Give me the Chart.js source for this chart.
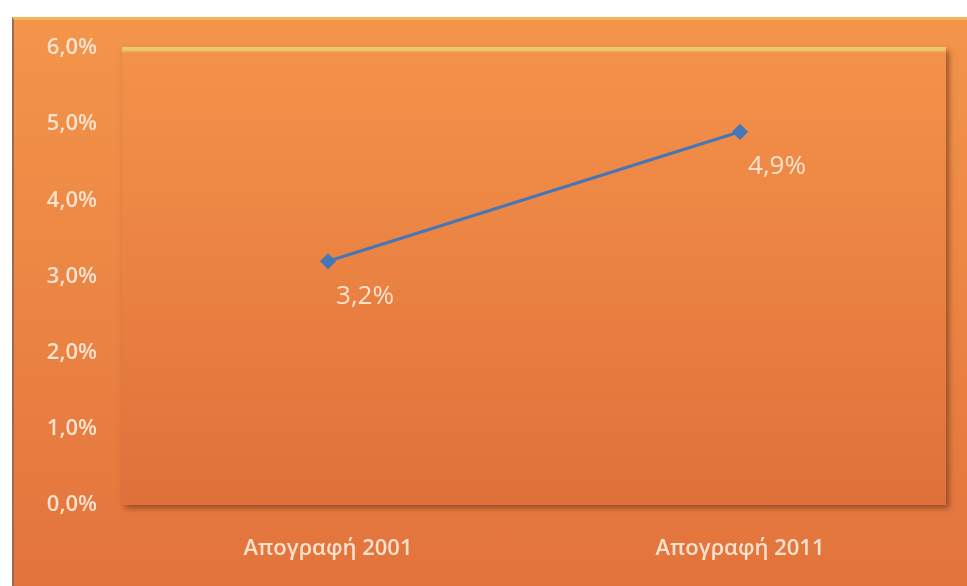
<!DOCTYPE html>
<html>
<head>
<meta charset="utf-8">
<script src="https://cdn.jsdelivr.net/npm/chart.js@4"></script>
<style>
  html, body { margin: 0; padding: 0; background: #fff; }
  #wrap {
    position: absolute; left: 0; top: 0; width: 967px; height: 586px;
  }
  #frame {
    position: absolute; left: 12px; top: 17px; width: 960px; height: 575px;
    background: linear-gradient(to bottom, #f3954a 0%, #ec8644 45%, #e2733c 100%);
    border-top: 3px solid #f7b55a;
    border-left: 2px solid #9a6a55;
    box-sizing: border-box;
  }
  canvas { position: absolute; left: 0; top: 0; }
</style>
</head>
<body>
<div id="wrap">
  <div id="frame"></div>
  <canvas id="grafik" width="967" height="586"></canvas>
</div>
<script>
const categories = ['Απογραφή 2001', 'Απογραφή 2011'];
const values = [3.2, 4.9];
const yTicks = [0, 1, 2, 3, 4, 5, 6];

const textColor = '#fbe2cf';
const fmt = v => v.toFixed(1).replace('.', ',') + '%';

// plot area box with gradient, highlight and shadow
const plotBox = {
    id: 'plotBox',
    beforeDatasetsDraw(chart) {
        const { ctx, chartArea: a } = chart;
        ctx.save();
        ctx.shadowColor = 'rgba(120,60,30,0.75)';
        ctx.shadowBlur = 6;
        ctx.shadowOffsetX = 3;
        ctx.shadowOffsetY = 3;
        const g = ctx.createLinearGradient(0, a.top, 0, a.bottom);
        g.addColorStop(0, '#f3924a');
        g.addColorStop(0.5, '#ea8242');
        g.addColorStop(1, '#df703b');
        ctx.fillStyle = g;
        ctx.fillRect(a.left, a.top, a.right - a.left, a.bottom - a.top);
        ctx.restore();
        ctx.save();
        const h = ctx.createLinearGradient(0, a.top - 1, 0, a.top + 6);
        h.addColorStop(0, '#e8d070');
        h.addColorStop(0.5, '#ecc262');
        h.addColorStop(1, 'rgba(243,146,74,0)');
        ctx.fillStyle = h;
        ctx.fillRect(a.left, a.top - 1, a.right - a.left, 7);
        ctx.restore();
    }
};

// value labels below-right of each point
const valueLabels = {
    id: 'valueLabels',
    afterDatasetsDraw(chart) {
        const { ctx } = chart;
        const meta = chart.getDatasetMeta(0);
        ctx.save();
        ctx.font = '500 26px "Open Sans", sans-serif';
        ctx.fillStyle = textColor;
        ctx.textAlign = 'center';
        ctx.textBaseline = 'middle';
        meta.data.forEach((pt, i) => {
            ctx.fillText(fmt(values[i]), pt.x + 37, pt.y + 35);
        });
        ctx.restore();
    }
};

new Chart(document.getElementById('grafik'), {
    type: 'line',
    data: {
        labels: categories,
        datasets: [{
            data: values,
            borderColor: '#4776b6',
            borderWidth: 3,
            pointStyle: 'rectRot',
            pointRadius: 6,
            pointBackgroundColor: '#4776b6',
            pointBorderColor: '#4776b6',
            tension: 0
        }]
    },
    options: {
        responsive: false,
        animation: false,
        layout: { padding: { top: 48, right: 21, bottom: 0, left: 0 } },
        plugins: { legend: { display: false }, tooltip: { enabled: false } },
        scales: {
            x: {
                offset: true,
                grid: { display: false, drawTicks: false },
                border: { display: false },
                ticks: { color: textColor, font: { family: 'Open Sans', size: 22, weight: '600' }, padding: 31 },
                afterFit(s) { s.height = 81; }
            },
            y: {
                min: 0,
                max: 6,
                afterBuildTicks(s) { s.ticks = yTicks.map(v => ({ value: v })); },
                grid: { display: false, drawTicks: false },
                border: { display: false },
                ticks: {
                    color: textColor,
                    font: { family: 'Open Sans', size: 22, weight: '600' },
                    padding: 25,
                    callback: v => fmt(v)
                },
                afterFit(s) { s.width = 122; }
            }
        }
    },
    plugins: [plotBox, valueLabels]
});
</script>
</body>
</html>
